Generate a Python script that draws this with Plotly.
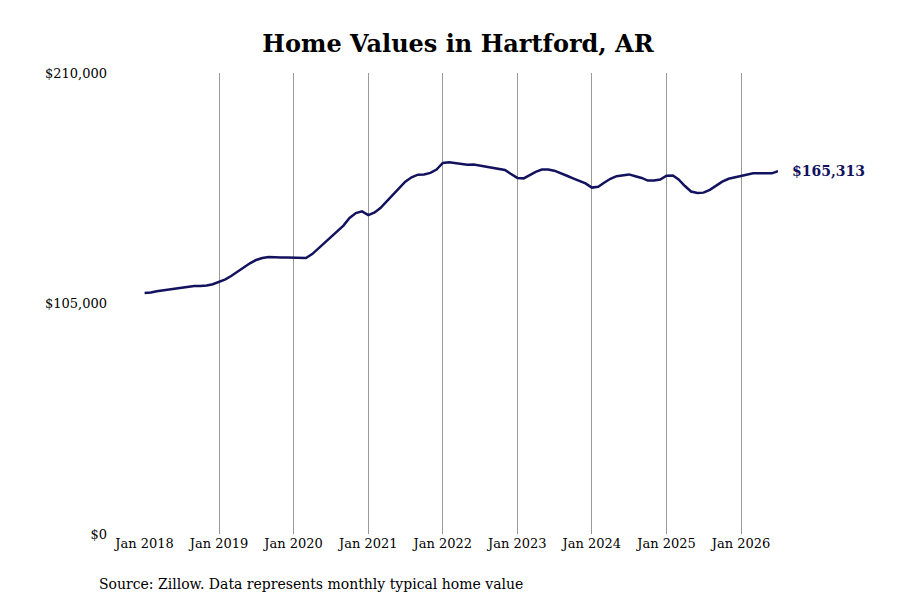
import pandas as pd
import plotly.graph_objects as go

# monthly typical home value, thousands of dollars
v2018 = [109.8, 110.0, 110.6, 111.0, 111.6, 112.0, 112.5, 112.8, 113.0, 113.0, 113.2, 113.8]
v2019 = [114.8, 116.0, 117.5, 119.5, 121.5, 123.3, 124.8, 125.7, 126.2, 126.0, 126.0, 126.0]
v2020 = [126.0, 125.7, 125.7, 127.5, 130.0, 132.5, 135.0, 137.5, 140.5, 144.0, 146.2, 147.0]
v2021 = [145.3, 146.5, 148.5, 151.5, 154.5, 157.5, 160.5, 162.5, 163.7, 163.8, 164.5, 166.0]
v2022 = [169.0, 169.3, 169.0, 168.5, 168.2, 168.3, 167.8, 167.0, 166.5, 166.3, 165.8, 164.0]
v2023 = [162.2, 162.0, 163.5, 165.0, 166.0, 166.0, 165.5, 164.5, 163.2, 162.0, 161.0, 159.7]
v2024 = [157.8, 158.2, 160.0, 161.8, 163.0, 163.5, 163.8, 163.0, 162.2, 161.0, 161.0, 161.5]
v2025 = [163.2, 163.3, 161.5, 158.5, 156.0, 155.3, 155.5, 156.8, 158.5, 160.5, 161.8, 162.5]
v2026 = [163.2, 163.8, 164.3, 164.3, 164.2, 164.3, 165.313]

values = [v * 1000 for v in v2018 + v2019 + v2020 + v2021 + v2022 + v2023 + v2024 + v2025 + v2026]
dates = pd.date_range("2018-01-01", periods=len(values), freq="MS")
last_label = "$165,313"

navy = "#12125e"
fig = go.Figure(go.Scatter(x=dates, y=values, mode="lines", line=dict(color=navy, width=2.5), hoverinfo="skip"))
fig.add_annotation(x=dates[-1], y=values[-1], text=f"<b>{last_label}</b>", showarrow=False,
                   xanchor="left", xshift=12, font=dict(color=navy, size=14))
fig.add_annotation(x=0, y=-0.087, xref="paper", yref="paper", xanchor="left", yanchor="top", showarrow=False,
                   xshift=-47, text="Source: Zillow. Data represents monthly typical home value",
                   font=dict(size=14, color="black"))
fig.update_layout(
    width=900, height=600, plot_bgcolor="white", paper_bgcolor="white",
    font=dict(family="DejaVu Serif", size=13, color="black"),
    title=dict(text="<b>Home Values in Hartford, AR</b>", x=0.5, y=0.955, xanchor="center",
               font=dict(size=24, family="DejaVu Serif")),
    margin=dict(l=136, r=130, t=65, b=74), showlegend=False,
    xaxis=dict(range=["2017-12-29", "2026-07-01"], tickvals=pd.date_range("2018-01-01", "2026-01-01", freq="YS"),
               tickformat="%b %Y", showgrid=True, gridcolor="#999999", gridwidth=1, zeroline=False,
               showline=False, ticks=""),
    yaxis=dict(range=[0, 210000], tickvals=[0, 105000, 210000], ticktext=["$0", "$105,000", "$210,000"],
               showgrid=False, zeroline=False, ticks="", ticklabelstandoff=36),
)
fig.write_html("out.html")
